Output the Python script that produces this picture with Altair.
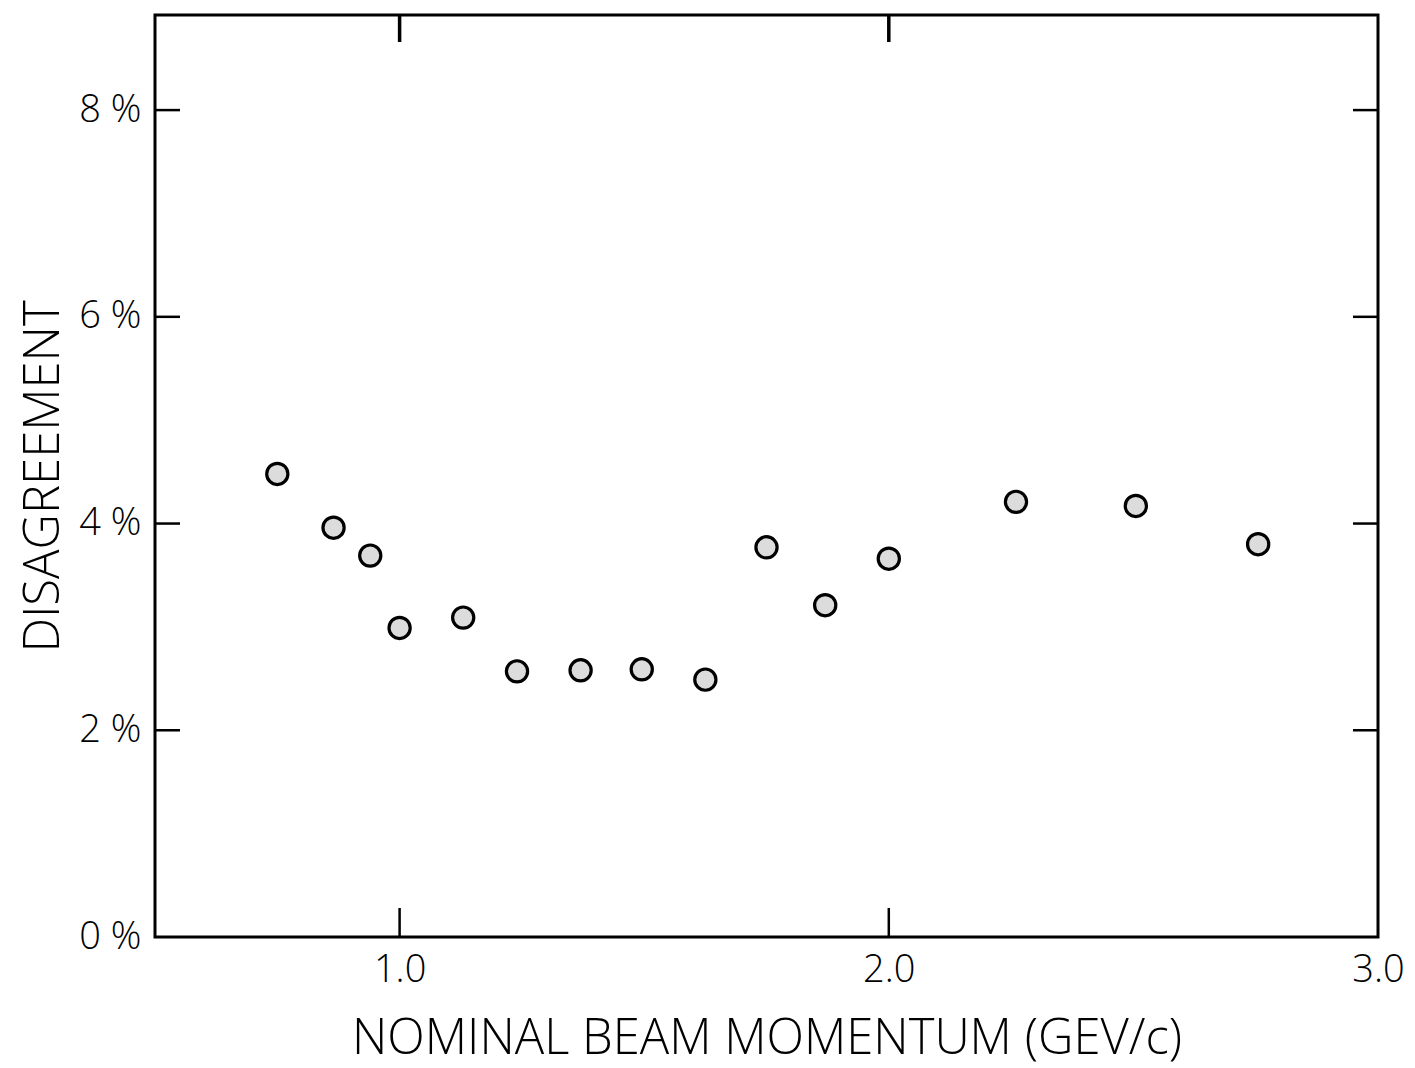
import altair as alt
import pandas as pd

momentum = [0.75, 0.865, 0.94, 1.0, 1.13, 1.24, 1.37, 1.495, 1.625, 1.75, 1.87, 2.0, 2.26, 2.505, 2.755]
disagreement = [4.48, 3.96, 3.69, 2.99, 3.09, 2.57, 2.58, 2.59, 2.49, 3.77, 3.21, 3.66, 4.21, 4.17, 3.80]

x_ticks = [1.0, 2.0]
x_labels = [1.0, 2.0, 3.0]
y_ticks = [2, 4, 6, 8]
y_labels = [0, 2, 4, 6, 8]

W, H = 1223, 922
FONT = "Open Sans"

df = pd.DataFrame({"p": momentum, "d": disagreement})
xt = pd.DataFrame({"p": x_ticks})
yt = pd.DataFrame({"d": y_ticks})

xscale = alt.Scale(domain=[0.5, 3.0], nice=False, zero=False)
yscale = alt.Scale(domain=[0, 8.92], nice=False)

points = alt.Chart(df).mark_point(
    shape="circle", filled=True, fill="#dcdcdc", stroke="black",
    strokeWidth=3.2, size=450, opacity=1
).encode(
    x=alt.X("p:Q", scale=xscale, axis=alt.Axis(
        values=x_labels, format=".1f", title="NOMINAL BEAM MOMENTUM (GEV/c)",
        ticks=False, domain=False, grid=False, labelFont=FONT, labelFontSize=38,
        labelFontWeight=300, labelColor="black", labelPadding=14, labelFlush=False,
        titleFont=FONT, titleFontSize=49, titleFontWeight=300,
        titleColor="black", titlePadding=25)),
    y=alt.Y("d:Q", scale=yscale, axis=alt.Axis(
        values=y_labels, labelExpr="datum.value + ' %'", title="DISAGREEMENT",
        ticks=False, domain=False, grid=False, labelFont=FONT, labelFontSize=38,
        labelFontWeight=300, labelColor="black", labelPadding=14, labelFlush=False,
        titleFont=FONT, titleFontSize=49, titleFontWeight=300,
        titleColor="black", titlePadding=10)),
)

rule_style = dict(color="black", strokeWidth=2.5)
left_ticks = alt.Chart(yt).mark_rule(**rule_style).encode(
    y=alt.Y("d:Q", scale=yscale), x=alt.value(0), x2=alt.value(25))
right_ticks = alt.Chart(yt).mark_rule(**rule_style).encode(
    y=alt.Y("d:Q", scale=yscale), x=alt.value(W - 25), x2=alt.value(W))
bottom_ticks = alt.Chart(xt).mark_rule(**rule_style).encode(
    x=alt.X("p:Q", scale=xscale), y=alt.value(H - 29), y2=alt.value(H))
top_ticks = alt.Chart(xt).mark_rule(color="black", strokeWidth=3.5).encode(
    x=alt.X("p:Q", scale=xscale), y=alt.value(0), y2=alt.value(27))

chart = alt.layer(left_ticks, right_ticks, bottom_ticks, top_ticks, points).properties(
    width=W, height=H,
    autosize=alt.AutoSizeParams(type="none"),
    padding={"left": 155, "top": 15, "right": 37, "bottom": 131},
    background="white",
).configure_view(stroke="black", strokeWidth=3)

chart.save("out.html", embed_options={"renderer": "svg", "actions": False})
